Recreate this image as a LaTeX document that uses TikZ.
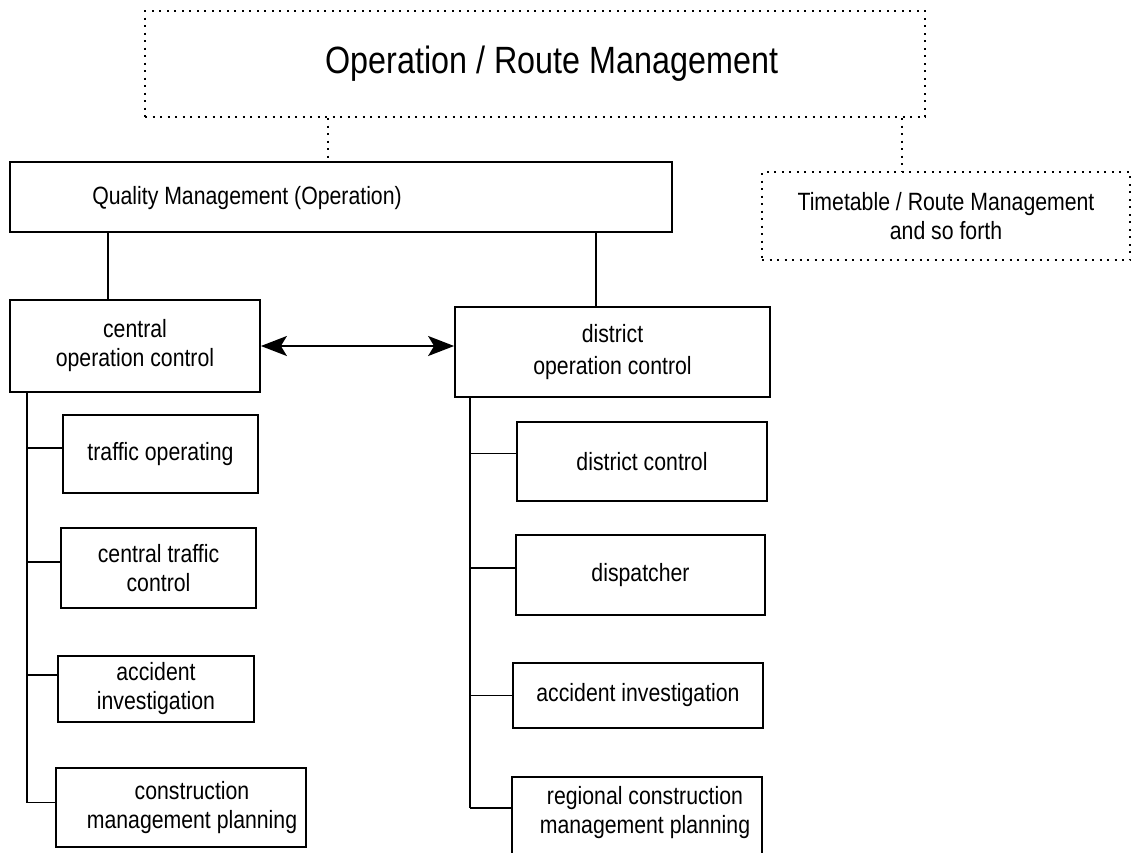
\documentclass[tikz,border=0pt]{standalone}
\usepackage{fontspec}
\setmainfont{Liberation Sans}[FakeStretch=0.85]
\usetikzlibrary{arrows.meta,calc}
\begin{document}
\begin{tikzpicture}[x=1pt,y=-1pt,
  txt/.style={font=\fontsize{25}{29}\selectfont},
  box/.style={draw, line width=1.8pt, inner sep=0pt, align=center, txt},
  dotbox/.style={draw, line width=2pt, dash pattern=on 2pt off 5.5pt, inner sep=0pt, align=center, txt},
  lbl/.style={inner sep=0pt, align=center, txt},
  link/.style={line width=1.8pt},
  dotlink/.style={line width=2pt, dash pattern=on 2pt off 5.5pt},
  twoway/.style={line width=1.8pt, {Stealth[length=26pt,width=20pt,inset=6pt]}-{Stealth[length=26pt,width=20pt,inset=6pt]}}]
\useasboundingbox (0,0) rectangle (1132,852);
\fill[white] (0,0) rectangle (1132,852);

% top level
\node[dotbox, minimum width=780, minimum height=106] (top) at (535,64) {};
\node[lbl, font=\fontsize{38}{44}\selectfont] (title) at (552,64) {Operation / Route Management};

% second level
\node[box, minimum width=662, minimum height=70] (qm) at (341,197) {};
\node[lbl] (qmtext) at (247,198) {Quality Management (Operation)};
\node[dotbox, minimum width=368, minimum height=88] (tt) at (946,216)
  {Timetable / Route Management\\and so forth};

% control centres
\node[box, minimum width=250, minimum height=92] (cen) at (135,346)
  {central\\operation control};
\node[box, minimum width=315, minimum height=90, font=\fontsize{25}{32}\selectfont] (dis) at (612.5,352)
  {district\\operation control};

% central operation control units
\node[box, minimum width=195, minimum height=78] (to) at (160.5,454) {traffic operating};
\node[box, minimum width=195, minimum height=80] (ctc) at (158.5,568) {central traffic\\control};
\node[box, minimum width=196, minimum height=66] (ai) at (156,689) {accident\\investigation};
\node[box, minimum width=250, minimum height=79] (cmp) at (181,807.5) {};
\node[lbl] (cmptext) at (192,808) {construction\\management planning};

% district operation control units
\node[box, minimum width=250, minimum height=79] (dc) at (642,461.5) {district control};
\node[box, minimum width=249, minimum height=80] (disp) at (640.5,575) {dispatcher};
\node[box, minimum width=250, minimum height=65] (ai2) at (638,695.5) {accident investigation};
\node[box, minimum width=250, minimum height=84] (rcmp) at (637,819) {};
\node[lbl] (rcmptext) at (645,813) {regional construction\\management planning};

% dotted links from the top box
\coordinate (xa) at (328,0);
\coordinate (xb) at (902,0);
\draw[dotlink] (top.south -| xa) -- (qm.north -| xa);
\draw[dotlink] (top.south -| xb) -- (tt.north -| xb);

% links from quality management
\coordinate (xc) at (108,0);
\coordinate (xd) at (596,0);
\draw[link] (qm.south -| xc) -- (cen.north -| xc);
\draw[link] (qm.south -| xd) -- (dis.north -| xd);

% exchange between control centres
\draw[twoway] (cen.east) -- (dis.west |- cen.east);

% left trunk
\coordinate (xl) at (27,0);
\coordinate (t1) at ($(to.west)+(0,-6)$);
\coordinate (t2) at ($(ctc.west)+(0,-6)$);
\coordinate (t3) at ($(ai.west)+(0,-14)$);
\coordinate (t4) at ($(cmp.west)+(0,-5)$);
\draw[link] (cen.south -| xl) -- (t4 -| xl);
\foreach \t in {t1,t2,t3,t4} \draw[link] (\t -| xl) -- (\t);

% right trunk
\coordinate (xr) at (470,0);
\coordinate (r1) at ($(dc.west)+(0,-8)$);
\coordinate (r2) at ($(disp.west)+(0,-7)$);
\coordinate (r3) at ($(ai2.west)+(0,0)$);
\coordinate (r4) at ($(rcmp.west)+(0,-11)$);
\draw[link] (dis.south -| xr) -- (r4 -| xr);
\foreach \t in {r1,r2,r3,r4} \draw[link] (\t -| xr) -- (\t);
\end{tikzpicture}
\end{document}
